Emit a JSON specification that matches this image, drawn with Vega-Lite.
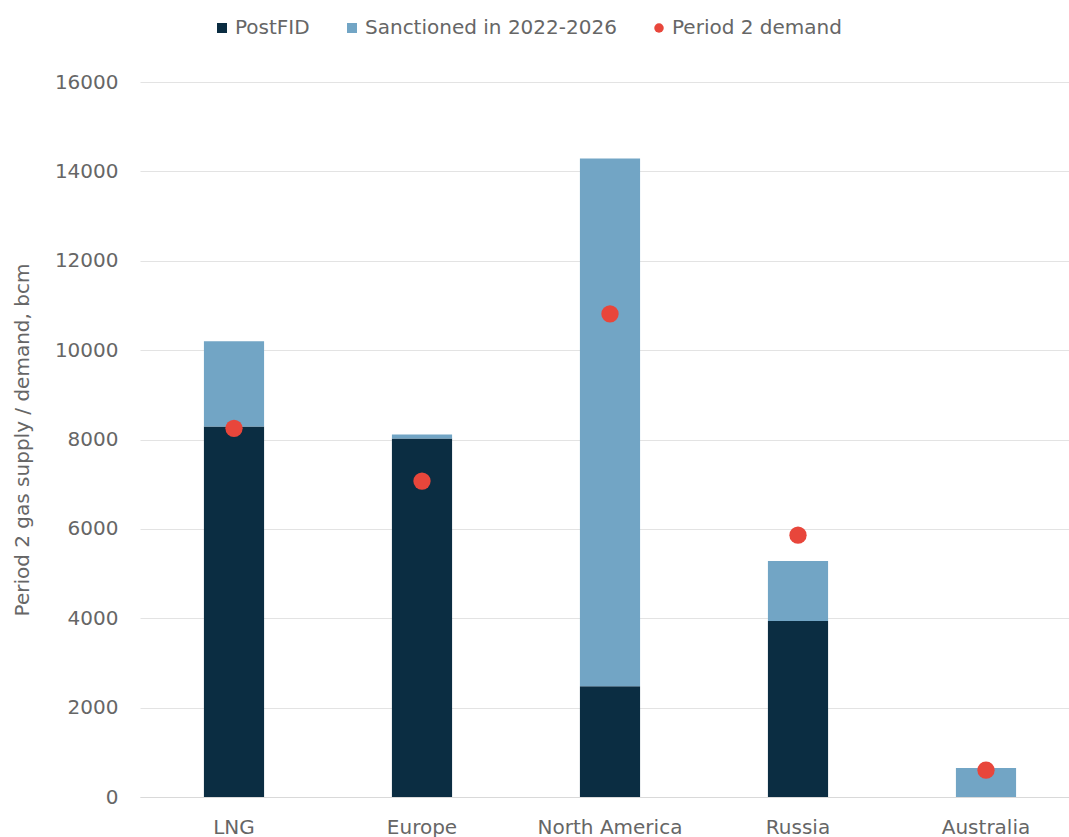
{
  "$schema": "https://vega.github.io/schema/vega-lite/v6.json",
  "width": 940,
  "height": 715,
  "autosize": {"type": "none"},
  "padding": {"left": 140, "top": 82, "right": 0, "bottom": 40},
  "background": "white",
  "config": {
    "font": "DejaVu Sans",
    "view": {"stroke": null},
    "axis": {"labelFont": "DejaVu Sans", "titleFont": "DejaVu Sans", "labelColor": "#666666", "titleColor": "#666666"},
    "legend": {"labelFont": "DejaVu Sans"}
  },
  "data": {
    "values": [
      {"region": "LNG", "series": "PostFID", "value": 8290, "ord": 1},
      {"region": "LNG", "series": "Sanctioned in 2022-2026", "value": 1910, "ord": 2},
      {"region": "Europe", "series": "PostFID", "value": 8020, "ord": 1},
      {"region": "Europe", "series": "Sanctioned in 2022-2026", "value": 90, "ord": 2},
      {"region": "North America", "series": "PostFID", "value": 2480, "ord": 1},
      {"region": "North America", "series": "Sanctioned in 2022-2026", "value": 11810, "ord": 2},
      {"region": "Russia", "series": "PostFID", "value": 3940, "ord": 1},
      {"region": "Russia", "series": "Sanctioned in 2022-2026", "value": 1340, "ord": 2},
      {"region": "Australia", "series": "PostFID", "value": 0, "ord": 1},
      {"region": "Australia", "series": "Sanctioned in 2022-2026", "value": 650, "ord": 2},
      {"region": "LNG", "series": "Period 2 demand", "value": 8250, "ord": 3},
      {"region": "Europe", "series": "Period 2 demand", "value": 7070, "ord": 3},
      {"region": "North America", "series": "Period 2 demand", "value": 10810, "ord": 3},
      {"region": "Russia", "series": "Period 2 demand", "value": 5860, "ord": 3},
      {"region": "Australia", "series": "Period 2 demand", "value": 600, "ord": 3}
    ]
  },
  "encoding": {
    "x": {
      "field": "region",
      "type": "nominal",
      "sort": ["LNG", "Europe", "North America", "Russia", "Australia"],
      "scale": {"paddingInner": 0.68, "paddingOuter": 0.34},
      "axis": {
        "title": null,
        "labelAngle": 0,
        "labelFontSize": 20,
        "labelPadding": 20,
        "ticks": false,
        "domain": true,
        "domainColor": "#D9D9D9",
        "grid": false
      }
    }
  },
  "layer": [
    {
      "transform": [{"filter": "datum.series !== 'Period 2 demand'"}],
      "mark": {"type": "bar"},
      "encoding": {
        "y": {
          "field": "value",
          "type": "quantitative",
          "stack": "zero",
          "scale": {"domain": [0, 16000]},
          "axis": {
            "title": "Period 2 gas supply / demand, bcm",
            "titleFontSize": 20,
            "titleFontWeight": "normal",
            "titlePadding": 22,
            "labelFontSize": 20,
            "labelPadding": 22,
            "labelOverlap": false,
            "values": [0, 2000, 4000, 6000, 8000, 10000, 12000, 14000, 16000],
            "format": "d",
            "ticks": false,
            "domain": false,
            "gridColor": "#E3E3E3",
            "gridWidth": 1
          }
        },
        "order": {"field": "ord", "type": "quantitative"},
        "color": {
          "field": "series",
          "type": "nominal",
          "scale": {
            "domain": ["PostFID", "Sanctioned in 2022-2026", "Period 2 demand"],
            "range": ["#0B2D42", "#72A5C5", "#E8463B"]
          },
          "legend": {
            "title": null,
            "orient": "none",
            "direction": "horizontal",
            "legendX": 72,
            "legendY": -64,
            "labelFontSize": 20,
            "labelColor": "#666666",
            "labelLimit": 400,
            "symbolSize": 100,
            "symbolStrokeWidth": 0,
            "columnPadding": 32,
            "labelOffset": 3,
            "encode": {
              "symbols": {
                "update": {
                  "shape": {"signal": "datum.value === 'Period 2 demand' ? 'circle' : 'square'"},
                  "size": {"signal": "datum.value === 'Period 2 demand' ? 90 : 100"}
                }
              }
            }
          }
        }
      }
    },
    {
      "transform": [{"filter": "datum.series === 'Period 2 demand'"}],
      "mark": {"type": "point", "filled": true, "size": 300, "opacity": 1},
      "encoding": {
        "y": {"field": "value", "type": "quantitative"},
        "color": {"field": "series", "type": "nominal"}
      }
    }
  ]
}
